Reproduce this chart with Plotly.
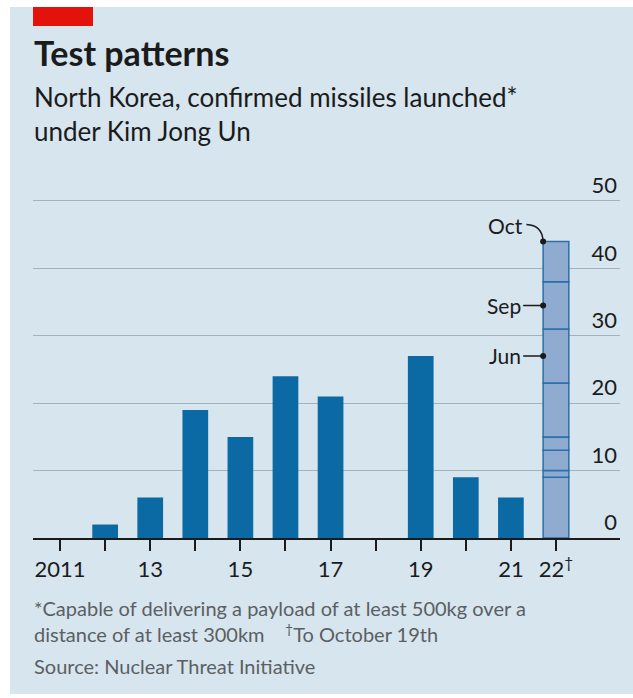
import plotly.graph_objects as go

# ---- data ----
years = [2011, 2012, 2013, 2014, 2015, 2016, 2017, 2018, 2019, 2020, 2021]
launches = [0, 2, 6, 19, 15, 24, 21, 0, 27, 9, 6]
year_2022 = 2022
segments_2022 = [9, 1, 3, 2, 8, 8, 7, 6]  # launches per batch, stacked (total 44)
marker_labels = ["Jun", "Sep", "Oct"]
marker_values = [27, 34.5, 44]
x_tick_vals = [2011, 2013, 2015, 2017, 2019, 2021, 2022]
x_tick_text = ["2011", "13", "15", "17", "19", "21", "22<sup>†</sup>"]
y_tick_vals = [0, 10, 20, 30, 40, 50]

# ---- layout constants ----
W, H = 633, 698
Y_MAX = 58
PX_PER_UNIT = 6.74
L, R, B = 33, 620, 538  # plot area in pixels
T = B - Y_MAX * PX_PER_UNIT
BAR_W = 0.57
FONT = "Lato"
DARK = "#1b1b1b"
BG = "#d6e5ee"


def px(x):
    return (x - L) / (R - L)


def py(y):
    return (B - y) / (B - T)


# cumulative bases for 2022 stack
bases = []
acc = 0
for s in segments_2022:
    bases.append(acc)
    acc += s

fig = go.Figure()
fig.add_trace(go.Bar(
    x=years, y=launches, width=BAR_W,
    marker=dict(color="#0b6aa3", line=dict(width=0)),
    hoverinfo="skip",
))
fig.add_trace(go.Bar(
    x=[year_2022] * len(segments_2022), y=segments_2022, base=bases, width=BAR_W,
    marker=dict(color="#8facd0", line=dict(color="#2a6eaa", width=1.5)),
    hoverinfo="skip",
))
left_edge = year_2022 - BAR_W / 2
fig.add_trace(go.Scatter(
    x=[left_edge] * len(marker_values), y=marker_values, mode="markers",
    marker=dict(color=DARK, size=6), hoverinfo="skip", cliponaxis=False,
))

annotations = []
for lab, val in zip(marker_labels[:2], marker_values[:2]):
    annotations.append(dict(
        x=left_edge, y=val, xref="x", yref="y", text=lab, showarrow=True,
        arrowhead=0, arrowwidth=1.5, arrowcolor=DARK, ax=-20, ay=0,
        xanchor="right", standoff=0,
        font=dict(family=FONT, size=21, color=DARK),
    ))
# Oct label with curved connector
oct_val = marker_values[2]
annotations.append(dict(
    x=left_edge - 0.4, y=oct_val + 2.3, xref="x", yref="y", text=marker_labels[2],
    showarrow=False, xanchor="right", yanchor="middle",
    font=dict(family=FONT, size=21, color=DARK),
))

NOTE = "#5b5f63"
annotations += [
    dict(x=px(32), y=py(53), xref="paper", yref="paper", text="<b>Test patterns</b>",
         showarrow=False, xanchor="left", yanchor="middle",
         font=dict(family=FONT, size=34, color=DARK)),
    dict(x=px(32), y=py(97), xref="paper", yref="paper",
         text="North Korea, confirmed missiles launched*",
         showarrow=False, xanchor="left", yanchor="middle",
         font=dict(family=FONT, size=26, color=DARK)),
    dict(x=px(32), y=py(131), xref="paper", yref="paper",
         text="under Kim Jong Un",
         showarrow=False, xanchor="left", yanchor="middle",
         font=dict(family=FONT, size=26, color=DARK)),
    dict(x=px(32), y=py(608), xref="paper", yref="paper",
         text="*Capable of delivering a payload of at least 500kg over a",
         showarrow=False, xanchor="left", yanchor="middle",
         font=dict(family=FONT, size=20, color=NOTE)),
    dict(x=px(32), y=py(633), xref="paper", yref="paper",
         text="distance of at least 300km    <sup>†</sup>To October 19th",
         showarrow=False, xanchor="left", yanchor="middle",
         font=dict(family=FONT, size=20, color=NOTE)),
    dict(x=px(32), y=py(666), xref="paper", yref="paper",
         text="Source: Nuclear Threat Initiative",
         showarrow=False, xanchor="left", yanchor="middle",
         font=dict(family=FONT, size=20, color=NOTE)),
]

shapes = [
    dict(type="rect", xref="paper", yref="paper", x0=px(10), x1=px(633), y0=py(7), y1=py(694),
         fillcolor=BG, line=dict(width=0), layer="below"),
    dict(type="rect", xref="paper", yref="paper", x0=px(33), x1=px(93), y0=py(7), y1=py(26),
         fillcolor="#e3120b", line=dict(width=0), layer="below"),
    dict(type="path", xref="x", yref="y",
         path=f"M {left_edge - 0.37},{oct_val + 2.5} Q {left_edge - 0.02},{oct_val + 2.4} {left_edge},{oct_val}",
         line=dict(color=DARK, width=1.5)),
]

fig.update_layout(
    width=W, height=H,
    margin=dict(l=L, r=W - R, t=T, b=H - B, pad=0),
    paper_bgcolor="white", plot_bgcolor="rgba(0,0,0,0)",
    barmode="overlay", showlegend=False,
    annotations=annotations, shapes=shapes,
    xaxis=dict(
        range=[2010.40, 2023.42], tickvals=x_tick_vals, ticktext=x_tick_text,
        ticks="outside", ticklen=11, tickwidth=1.5, tickcolor=DARK,
        minor=dict(tick0=2011, dtick=1, ticks="outside", ticklen=11, tickwidth=1.5,
                   tickcolor=DARK, showgrid=False),
        showline=True, linecolor=DARK, linewidth=2, showgrid=False, zeroline=False,
        tickfont=dict(family=FONT, size=22, color=DARK), fixedrange=True,
    ),
    yaxis=dict(
        range=[0, Y_MAX], tickvals=y_tick_vals, side="right", ticklabelposition="inside top",
        showgrid=True, gridcolor="#a4b2bc", gridwidth=1, zeroline=False, showline=False,
        ticks="", tickfont=dict(family=FONT, size=22, color=DARK), fixedrange=True,
    ),
)

fig.write_html("out.html")
